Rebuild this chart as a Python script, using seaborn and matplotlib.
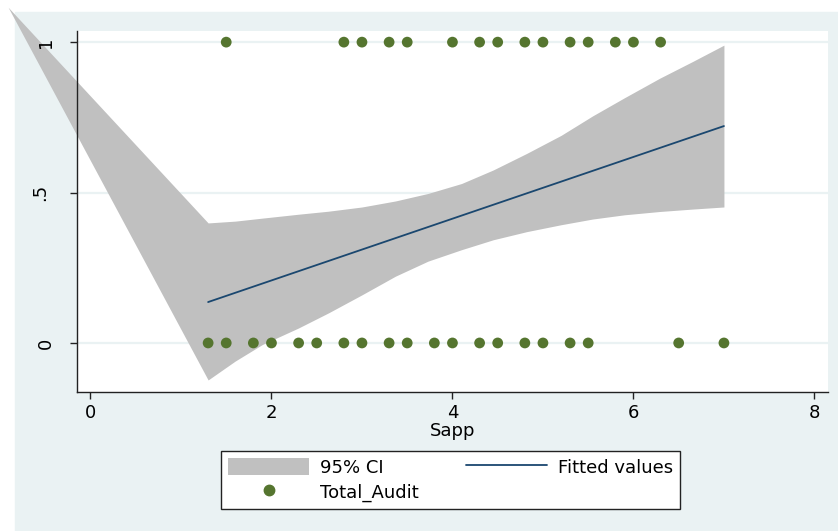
import matplotlib.pyplot as plt
import numpy as np
import pandas as pd
import seaborn as sns
from matplotlib.lines import Line2D
from matplotlib.patches import Patch, Rectangle
from matplotlib.transforms import ScaledTranslation

# ---- data ----
# observed points (Total_Audit is 0/1)
sapp_one = [1.5, 2.8, 3.0, 3.3, 3.5, 4.0, 4.3, 4.5, 4.8, 5.0, 5.3, 5.5, 5.8, 6.0, 6.3]
sapp_zero = [1.3, 1.5, 1.8, 2.0, 2.3, 2.5, 2.8, 3.0, 3.3, 3.5, 3.8, 4.0, 4.3, 4.5,
             4.8, 5.0, 5.3, 5.5, 6.5, 7.0]

# fitted line
fit_x = [1.3, 7.0]
fit_y = [0.136, 0.721]

# 95% CI band (first vertex is the odd stray point top-left)
ci_x = [-0.91, 1.3, 1.6, 1.9, 2.3, 2.63, 3.0, 3.37, 3.73, 4.1, 4.45, 4.82, 5.2,
        5.55, 5.9, 6.29, 6.65, 7.0]
ci_hi = [1.116, 0.399, 0.405, 0.415, 0.428, 0.438, 0.452, 0.472, 0.497, 0.53, 0.575,
         0.63, 0.69, 0.755, 0.815, 0.88, 0.935, 0.99]
ci_lo = [1.116, -0.123, -0.06, -0.005, 0.05, 0.1, 0.16, 0.222, 0.272, 0.31, 0.343,
         0.37, 0.393, 0.412, 0.426, 0.437, 0.445, 0.452]

df_pts = pd.DataFrame({
    "Sapp": sapp_one + sapp_zero,
    "Total_Audit": [1] * len(sapp_one) + [0] * len(sapp_zero),
})
df_fit = pd.DataFrame({"Sapp": fit_x, "fitted": fit_y})

bg = "#EAF2F3"
band_col = "#C0C0C0"
line_col = "#1A476F"
dot_col = "#55752F"

sns.set_style("white")
plt.rcParams["font.family"] = ["DejaVu Sans"]
plt.rcParams["text.color"] = "black"
plt.rcParams["axes.labelcolor"] = "black"
plt.rcParams["xtick.color"] = "black"
plt.rcParams["ytick.color"] = "black"

fig = plt.figure(figsize=(8.38, 5.31), dpi=100)
fig.patches.append(Rectangle((15 / 838, 0), 1, (531 - 12) / 531,
                             transform=fig.transFigure, color=bg, zorder=-10))
ax = fig.add_axes([77 / 838, (531 - 392) / 531, (828 - 77) / 838, (392 - 31) / 531])
ax.set_facecolor("white")
ax.set_axisbelow(False)

for yv in [0, 0.5, 1]:
    ax.axhline(yv, color=bg, lw=1.6, zorder=0)

ax.fill_between(ci_x, ci_lo, ci_hi, color=band_col, lw=0, clip_on=False, zorder=1)
sns.lineplot(data=df_fit, x="Sapp", y="fitted", color=line_col, lw=1.3, ax=ax, zorder=2)
sns.scatterplot(data=df_pts, x="Sapp", y="Total_Audit", color=dot_col, s=60,
                edgecolor="none", ax=ax, zorder=3, clip_on=False)

ax.set_xlim(-0.149, 8.15)
ax.set_ylim(-0.163, 1.037)
ax.set_xticks([0, 2, 4, 6, 8])
ax.set_yticks([0, 0.5, 1])
ax.set_yticklabels(["0", ".5", "1"], rotation=90, va="center")
ax.tick_params(axis="both", labelsize=13, length=5, width=1, color="#222222",
               labelcolor="black", direction="out", bottom=True, left=True, pad=4)
ax.tick_params(axis="y", pad=11)
ax.set_xlabel("Sapp", fontsize=13, labelpad=0, color="black")
ax.set_ylabel("")

# the ".5" label sits a little further left in the original
lab = ax.get_yticklabels()[1]
lab.set_transform(lab.get_transform() + ScaledTranslation(-6 / 100, 0, fig.dpi_scale_trans))

for side in ["top", "right"]:
    ax.spines[side].set_visible(False)
for side in ["left", "bottom"]:
    ax.spines[side].set_color("#222222")
    ax.spines[side].set_linewidth(1)

handles = [
    Patch(facecolor=band_col, edgecolor="none"),
    Line2D([], [], ls="none", marker="o", color=dot_col, markersize=7.5),
    Line2D([], [], color=line_col, lw=1.3),
]
labels = ["95% CI", "Total_Audit", "Fitted values"]
leg = fig.legend(handles, labels, ncol=2, loc="upper left",
                 bbox_to_anchor=(221 / 838, (531 - 451) / 531),
                 fontsize=13, handlelength=4.5, handleheight=1.05,
                 frameon=True, fancybox=False, borderpad=0.4, labelspacing=0.35,
                 handletextpad=0.6, columnspacing=2.6, borderaxespad=0)
leg.get_frame().set_edgecolor("#222222")
leg.get_frame().set_facecolor("white")
leg.get_frame().set_alpha(1)
leg.get_frame().set_linewidth(1)

fig.savefig("out.png", dpi=100)
